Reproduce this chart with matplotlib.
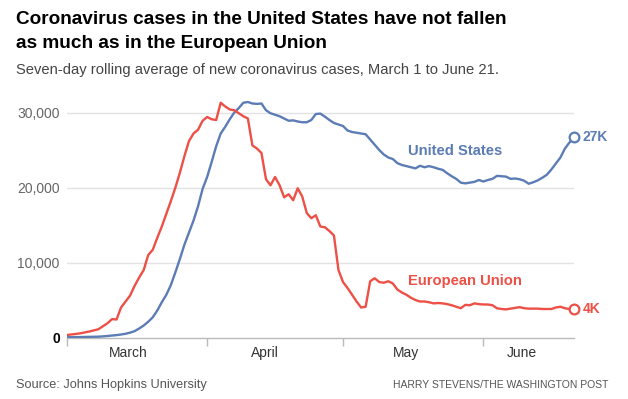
import matplotlib
matplotlib.use("Agg")
import matplotlib.pyplot as plt
import numpy as np

# ---- data: seven-day rolling average of new cases, March 1 (day 0) to June 21 (day 112)
days = list(range(113))

eu_cases = [
    330, 400, 470, 560, 680, 800, 950, 1100, 1500, 1900,
    2450, 2400, 4000, 4800, 5600, 6900, 8000, 9000, 11000, 11700,
    13300, 14800, 16500, 18200, 20000, 22000, 24200, 26200, 27200, 27700,
    28900, 29400, 29100, 29000, 31300, 30800, 30400, 30300, 29900, 29500,
    29200, 25600, 25200, 24600, 21100, 20300, 21400, 20300, 18700, 19100,
    18300, 19900, 18800, 16600, 15900, 16300, 14800, 14700, 14200, 13600,
    9000, 7400, 6600, 5700, 4800, 4000, 4100, 7500, 7900, 7400,
    7300, 7500, 7200, 6400, 6000, 5700, 5300, 5000, 4800, 4800,
    4700, 4550, 4600, 4550, 4450, 4300, 4100, 3900, 4350, 4300,
    4550, 4450, 4400, 4400, 4300, 3900, 3800, 3750, 3850, 3950,
    4050, 3900, 3850, 3850, 3850, 3800, 3800, 3800, 4000, 4100,
    3900, 3800, 3750,
]

us_cases = [
    30, 40, 50, 60, 75, 85, 100, 110, 150, 200,
    260, 320, 400, 500, 650, 850, 1200, 1600, 2100, 2700,
    3600, 4700, 5700, 7000, 8700, 10500, 12400, 14000, 15600, 17500,
    19800, 21400, 23400, 25500, 27200, 28100, 29100, 30000, 30600, 31300,
    31400, 31200, 31150, 31200, 30300, 29900, 29700, 29500, 29200, 28900,
    28950, 28800, 28700, 28700, 29000, 29800, 29850, 29450, 29000, 28600,
    28400, 28200, 27600, 27400, 27300, 27200, 27100, 26400, 25700, 25000,
    24400, 24000, 23800, 23250, 23000, 22850, 22700, 22550, 22900, 22700,
    22850, 22700, 22500, 22350, 21900, 21500, 21150, 20650, 20550, 20650,
    20750, 21000, 20800, 21000, 21150, 21550, 21500, 21450, 21150, 21200,
    21100, 20900, 20500, 20700, 20950, 21300, 21700, 22400, 23200, 24000,
    25200, 26000, 26700,
]

month_starts = [0, 31, 61, 92]
month_labels = ["March", "April", "May", "June"]
month_label_pos = [13.5, 43.8, 74.9, 100.5]

y_ticks = [0, 10000, 20000, 30000]
y_tick_labels = ["0", "10,000", "20,000", "30,000"]

us_name = "United States"
eu_name = "European Union"
us_end_label = "27K"
eu_end_label = "4K"

BLUE = "#5b7cb5"
RED = "#ec5046"
FONT = "Liberation Sans"

plt.rcParams["font.family"] = [FONT, "DejaVu Sans"]

fig = plt.figure(figsize=(6.28, 3.99), dpi=100)
ax = fig.add_axes([66.7 / 628, 1 - 337.5 / 399, (574 - 66.7) / 628, (337.5 - 97.5) / 399])

ax.plot(days, us_cases, color=BLUE, lw=1.7, solid_joinstyle="round", zorder=3)
ax.plot(days, eu_cases, color=RED, lw=1.7, solid_joinstyle="round", zorder=3)
ax.plot(days[-1], us_cases[-1], "o", ms=7, mfc="white", mec=BLUE, mew=1.6, zorder=4, clip_on=False)
ax.plot(days[-1], eu_cases[-1], "o", ms=7, mfc="white", mec=RED, mew=1.6, zorder=4, clip_on=False)

ax.set_xlim(0, days[-1])
ax.set_ylim(0, 32000)

ax.set_yticks(y_ticks)
ax.set_yticklabels(y_tick_labels)
for i, lab in enumerate(ax.get_yticklabels()):
    if i == 0:
        lab.set_color("black")
        lab.set_fontweight("bold")
    else:
        lab.set_color("#666666")
ax.tick_params(axis="y", length=0, pad=5, labelsize=10)
for t in y_ticks[1:]:
    ax.axhline(t, color="#e3e3e3", lw=1, zorder=1)

ax.set_xticks(month_starts)
ax.set_xticklabels([])
ax.tick_params(axis="x", which="major", length=6, color="#bbbbbb", width=1)
ax.set_xticks(month_label_pos, minor=True)
ax.set_xticklabels(month_labels, minor=True)
ax.tick_params(axis="x", which="minor", length=0, pad=6, labelsize=10, labelcolor="#333333")

for s in ["top", "right", "left"]:
    ax.spines[s].set_visible(False)
ax.spines["bottom"].set_color("#bbbbbb")
ax.spines["bottom"].set_linewidth(1)

ax.text(75.3, 24900, us_name, color=BLUE, fontsize=10.6, fontweight="bold", va="center", ha="left")
ax.text(75.3, 7600, eu_name, color=RED, fontsize=10.6, fontweight="bold", va="center", ha="left")
ax.annotate(us_end_label, (days[-1], us_cases[-1]), xytext=(6, 0), textcoords="offset points",
            color=BLUE, fontsize=10, fontweight="bold", va="center", ha="left", annotation_clip=False)
ax.annotate(eu_end_label, (days[-1], eu_cases[-1]), xytext=(6, 0), textcoords="offset points",
            color=RED, fontsize=10, fontweight="bold", va="center", ha="left", annotation_clip=False)

fig.text(16 / 628, 1 - 24 / 399, "Coronavirus cases in the United States have not fallen",
         fontsize=13.7, fontweight="bold", color="black", va="baseline")
fig.text(16 / 628, 1 - 48.5 / 399, "as much as in the European Union",
         fontsize=13.7, fontweight="bold", color="black", va="baseline")
fig.text(16.5 / 628, 1 - 74 / 399, "Seven-day rolling average of new coronavirus cases, March 1 to June 21.",
         fontsize=10.6, color="#444444", va="baseline")
fig.text(16.5 / 628, 1 - 388 / 399, "Source: Johns Hopkins University",
         fontsize=9.2, color="#555555", va="baseline")
fig.text(608 / 628, 1 - 388 / 399, "HARRY STEVENS/THE WASHINGTON POST",
         fontsize=7.5, color="#555555", va="baseline", ha="right")

fig.savefig("out.png", dpi=100, facecolor="white")
